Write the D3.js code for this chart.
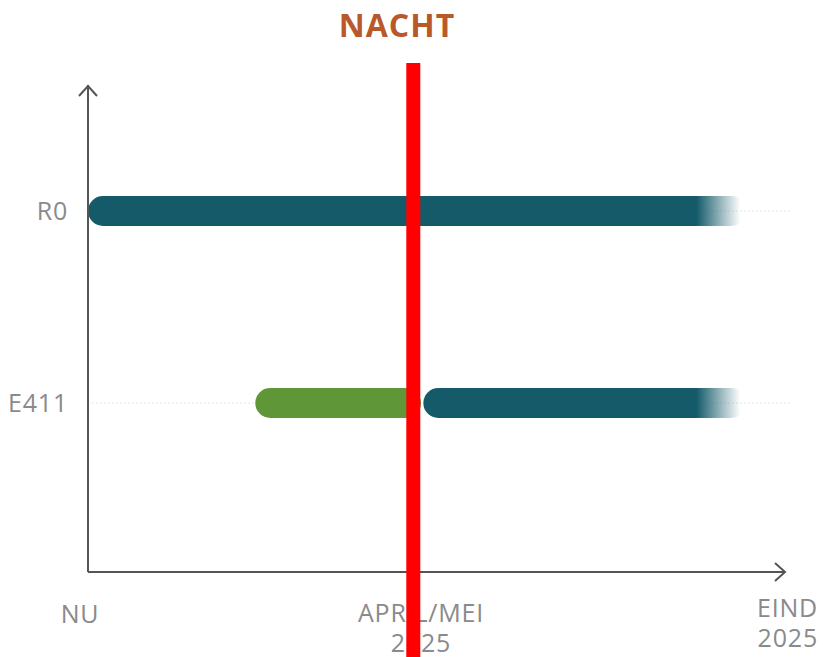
<!DOCTYPE html>
<html>
<head>
<meta charset="utf-8">
<script src="https://cdn.jsdelivr.net/npm/d3@7"></script>
<style>
  body { margin: 0; background: #fff; }
</style>
</head>
<body>
<div id="chart"></div>
<script>
// Data (x in months from "now")
const categories = ["R0", "E411"];
const xTickValues = [0, 4.3, 9];
const xTickLabels = [["NU"], ["APRIL/MEI", "2025"], ["EIND", "2025"]];
const barStarts = [0, 2.16, 4.33];
const barEnds = [8.5, 4.3, 8.5];
const barRows = ["R0", "E411", "E411"];
const barKinds = ["teal", "green", "teal"];
const nightAt = 4.11;
const title = "NACHT";

const width = 823, height = 657;
const colors = { teal: "#145a69", green: "#5f9637" };

const svg = d3.select("#chart").append("svg")
  .attr("width", width)
  .attr("height", height)
  .style("font-family", "'Open Sans', sans-serif");

const x = d3.scaleLinear().domain([0, 9]).range([88, 785]);
const y = d3.scalePoint().domain(categories).range([211, 403]);
const axisY = 572, axisTop = 85;

const bars = barStarts.map((s, i) => ({ start: s, end: barEnds[i], row: barRows[i], kind: barKinds[i] }));

// Gradients for the fading right ends
const defs = svg.append("defs");
bars.forEach((d, i) => {
  if (d.kind !== "teal") return;
  const len = x(d.end) - x(d.start);
  const g = defs.append("linearGradient")
    .attr("id", "fade" + i)
    .attr("gradientUnits", "userSpaceOnUse")
    .attr("x1", x(d.start)).attr("x2", x(d.end))
    .attr("y1", 0).attr("y2", 0);
  g.append("stop").attr("offset", 0).attr("stop-color", colors.teal).attr("stop-opacity", 1);
  g.append("stop").attr("offset", (len - 50) / len).attr("stop-color", colors.teal).attr("stop-opacity", 1);
  g.append("stop").attr("offset", (len - 6) / len).attr("stop-color", colors.teal).attr("stop-opacity", 0);
  g.append("stop").attr("offset", 1).attr("stop-color", colors.teal).attr("stop-opacity", 0);
});

// Faint grid lines
svg.selectAll(".grid")
  .data(categories)
  .enter().append("line")
  .attr("x1", x(0) + 4).attr("x2", 790)
  .attr("y1", d => y(d)).attr("y2", d => y(d))
  .attr("stroke", "#e8e8e8")
  .attr("stroke-width", 1)
  .attr("stroke-dasharray", "2,2");

// Bars
const barH = 30;
svg.selectAll(".bar")
  .data(bars)
  .enter().append("rect")
  .attr("x", d => x(d.start))
  .attr("y", d => y(d.row) - barH / 2)
  .attr("width", d => x(d.end) - x(d.start))
  .attr("height", barH)
  .attr("rx", barH / 2)
  .attr("fill", (d, i) => d.kind === "teal" ? `url(#fade${i})` : colors.green);

// Axes
const axisColor = "#555";
svg.append("line")
  .attr("x1", x(0)).attr("x2", x(0))
  .attr("y1", axisTop).attr("y2", axisY)
  .attr("stroke", axisColor).attr("stroke-width", 2);
svg.append("line")
  .attr("x1", x(0)).attr("x2", x(9))
  .attr("y1", axisY).attr("y2", axisY)
  .attr("stroke", axisColor).attr("stroke-width", 2);
// arrow heads
svg.append("path")
  .attr("d", `M${x(0) - 9},${axisTop + 11} L${x(0)},${axisTop + 1} L${x(0) + 9},${axisTop + 11}`)
  .attr("fill", "none").attr("stroke", axisColor).attr("stroke-width", 2);
svg.append("path")
  .attr("d", `M${x(9) - 10},${axisY - 9} L${x(9)},${axisY} L${x(9) - 10},${axisY + 9}`)
  .attr("fill", "none").attr("stroke", axisColor).attr("stroke-width", 2);

const labelStyle = sel => sel
  .attr("fill", "#8a8a8a")
  .style("font-size", "25px")
  .style("letter-spacing", "0.8px");

// Y labels
svg.selectAll(".ylab")
  .data(categories)
  .enter().append("text")
  .attr("x", 68)
  .attr("y", d => y(d))
  .attr("dy", "0.36em")
  .attr("text-anchor", "end")
  .call(labelStyle)
  .text(d => d);

// X labels
const xAnchors = ["middle", "middle", "end"];
const xShift = [-8, 0, 33];
const xBase = [623, 622, 617];
xTickValues.forEach((v, i) => {
  const t = svg.append("text")
    .attr("text-anchor", xAnchors[i])
    .call(labelStyle);
  xTickLabels[i].forEach((line, j) => {
    t.append("tspan")
      .attr("x", x(v) + xShift[i])
      .attr("y", xBase[i] + j * 30)
      .attr("text-anchor", i === 1 && j === 1 ? "middle" : xAnchors[i])
      .text(line);
  });
});

// Night line
svg.append("rect")
  .attr("x", x(nightAt))
  .attr("y", 63)
  .attr("width", 14)
  .attr("height", height - 63)
  .attr("fill", "#ff0000");

// Title
svg.append("text")
  .attr("x", 397)
  .attr("y", 37)
  .attr("text-anchor", "middle")
  .attr("fill", "#b9582a")
  .style("font-size", "32px")
  .style("font-weight", "700")
  .style("letter-spacing", "1px")
  .text(title);
</script>
</body>
</html>
